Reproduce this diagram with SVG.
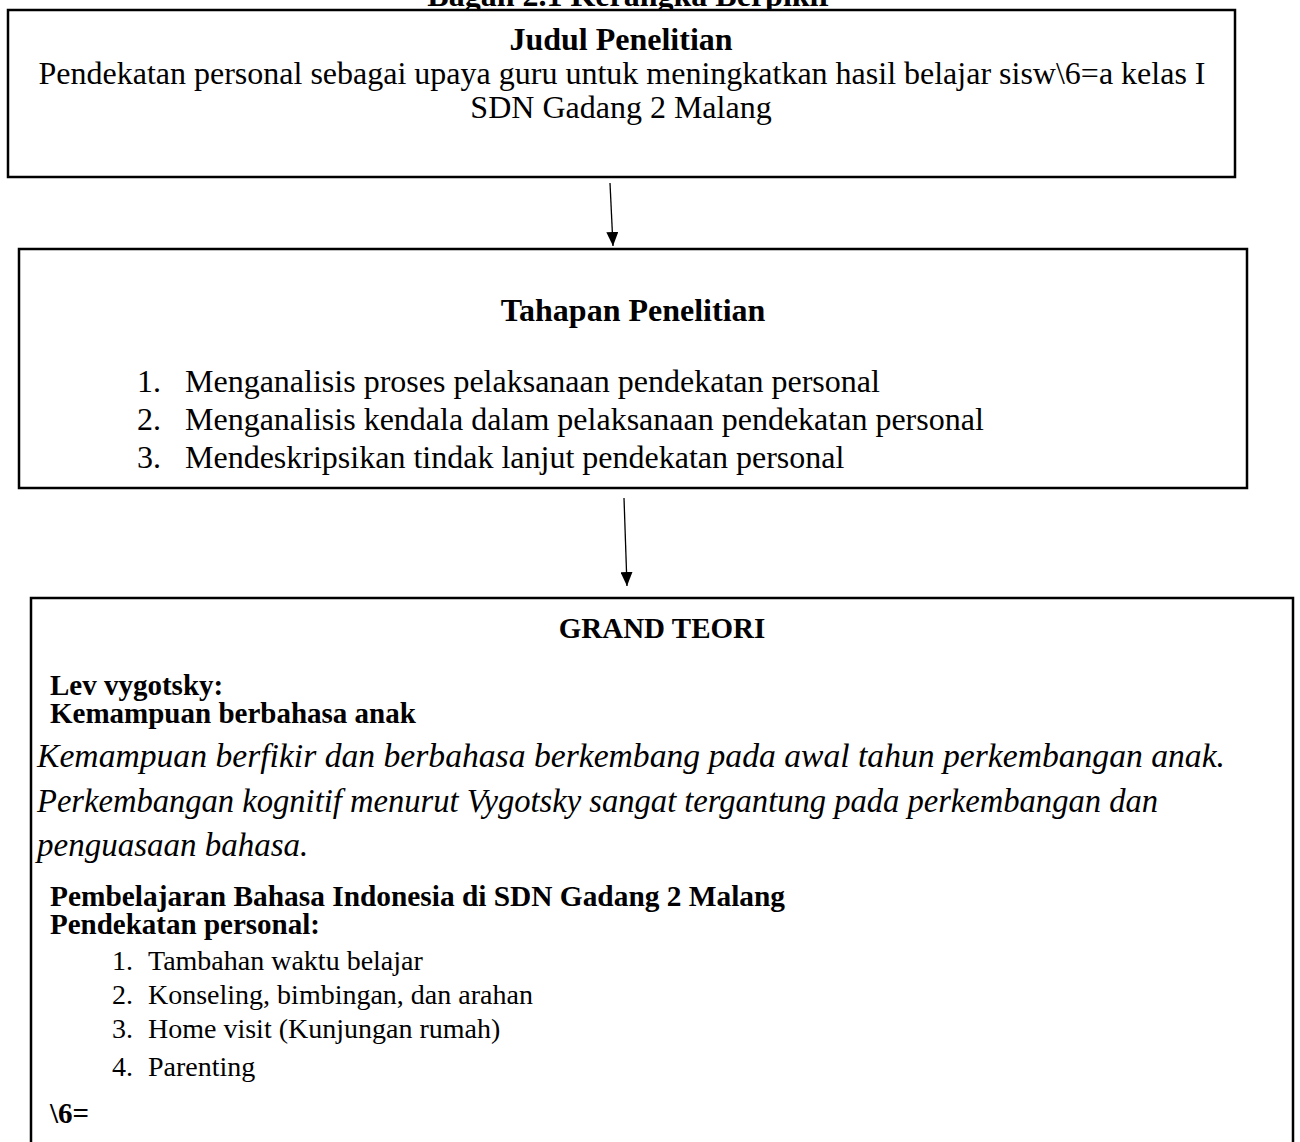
<svg xmlns="http://www.w3.org/2000/svg" width="1300" height="1142" viewBox="0 0 1300 1142">
<style>
.box{fill:#fff;stroke:#000;stroke-width:2.5}
.t{font-family:"Liberation Serif","Times New Roman",serif;fill:#000}
.b{font-weight:bold}
.i{font-style:italic}
.c{text-anchor:middle}
.s33{font-size:33px}
.s32{font-size:32px}
.s29{font-size:29px}
.s28{font-size:28px}
.conn{stroke:#000;stroke-width:1.3;fill:none}
</style>
<defs>
<marker id="ah" viewBox="0 0 14 12" refX="14" refY="6" markerWidth="14" markerHeight="12" markerUnits="userSpaceOnUse" orient="auto">
<path d="M0,0 L14,6 L0,12 z" fill="#000"/>
</marker>
</defs>
<rect width="1300" height="1142" fill="#fff"/>
<text class="t b c s32" x="630" y="6">Bagan 2.1 Kerangka Berpikir</text>
<g id="judul">
<rect class="box" x="8" y="10" width="1227" height="167"/>
<text class="t b c s32" x="621" y="50">Judul Penelitian</text>
<text class="t c s32" x="622" y="84">Pendekatan personal sebagai upaya guru untuk meningkatkan hasil belajar sisw\6=a kelas I</text>
<text class="t c s32" x="621" y="118">SDN Gadang 2 Malang</text>
</g>
<g id="tahapan">
<rect class="box" x="19" y="249" width="1228" height="239"/>
<text class="t b c s32" x="633" y="321">Tahapan Penelitian</text>
<text class="t s32" x="137" y="392">1.</text><text class="t s32" x="185" y="392">Menganalisis proses pelaksanaan pendekatan personal</text>
<text class="t s32" x="137" y="430">2.</text><text class="t s32" x="185" y="430">Menganalisis kendala dalam pelaksanaan pendekatan personal</text>
<text class="t s32" x="137" y="468">3.</text><text class="t s32" x="185" y="468">Mendeskripsikan tindak lanjut pendekatan personal</text>
</g>
<g id="grand-teori">
<rect class="box" x="31" y="598" width="1262" height="560"/>
<text class="t b c s29" x="662" y="638">GRAND TEORI</text>
<text class="t b s29" x="50" y="695">Lev vygotsky:</text>
<text class="t b s29" x="50" y="723">Kemampuan berbahasa anak</text>
<text class="t i s33" x="37" y="767" textLength="1188" lengthAdjust="spacingAndGlyphs">Kemampuan berfikir dan berbahasa berkembang pada awal tahun perkembangan anak.</text>
<text class="t i s33" x="37" y="812" textLength="1121" lengthAdjust="spacingAndGlyphs">Perkembangan kognitif menurut Vygotsky sangat tergantung pada perkembangan dan</text>
<text class="t i s33" x="37" y="856">penguasaan bahasa.</text>
<text class="t b s29" x="50" y="906" textLength="735" lengthAdjust="spacingAndGlyphs">Pembelajaran Bahasa Indonesia di SDN Gadang 2 Malang</text>
<text class="t b s29" x="50" y="934">Pendekatan personal:</text>
<text class="t s28" x="112" y="970">1.</text><text class="t s28" x="148" y="970">Tambahan waktu belajar</text>
<text class="t s28" x="112" y="1004">2.</text><text class="t s28" x="148" y="1004">Konseling, bimbingan, dan arahan</text>
<text class="t s28" x="112" y="1038">3.</text><text class="t s28" x="148" y="1038">Home visit (Kunjungan rumah)</text>
<text class="t s28" x="112" y="1076">4.</text><text class="t s28" x="148" y="1076">Parenting</text>
<text class="t b s29" x="50" y="1123">\6=</text>
</g>
<g id="connectors">
<line class="conn" x1="610" y1="183" x2="613" y2="246" marker-end="url(#ah)"/>
<line class="conn" x1="624" y1="498" x2="627" y2="586" marker-end="url(#ah)"/>
</g>
</svg>
